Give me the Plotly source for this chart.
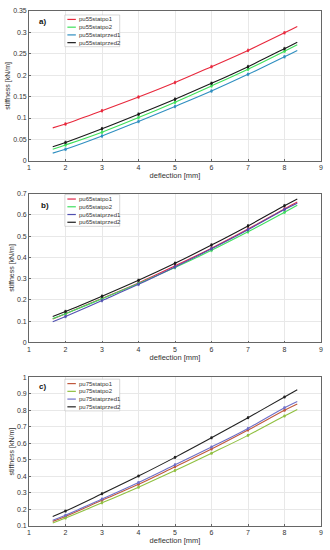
import plotly.graph_objects as go

deflection = [1.65, 2, 3, 4, 5, 6, 7, 8, 8.35]
marker_x = [2, 3, 4, 5, 6, 7, 8]

# Panel a) pu55
pu55statpo1 = [0.077, 0.086, 0.117, 0.149, 0.183, 0.220, 0.258, 0.299, 0.314]
pu55statpo2 = [0.027, 0.037, 0.067, 0.101, 0.137, 0.175, 0.214, 0.256, 0.271]
pu55statprzed1 = [0.018, 0.027, 0.058, 0.092, 0.127, 0.163, 0.202, 0.243, 0.258]
pu55statprzed2 = [0.033, 0.043, 0.075, 0.109, 0.144, 0.181, 0.220, 0.262, 0.277]

# Panel b) pu65
pu65statpo1 = [0.110, 0.135, 0.207, 0.280, 0.360, 0.443, 0.533, 0.628, 0.660]
pu65statpo2 = [0.112, 0.135, 0.205, 0.277, 0.352, 0.433, 0.520, 0.612, 0.645]
pu65statprzed1 = [0.097, 0.122, 0.197, 0.273, 0.355, 0.440, 0.530, 0.625, 0.655]
pu65statprzed2 = [0.122, 0.145, 0.217, 0.292, 0.372, 0.458, 0.548, 0.643, 0.675]

# Panel c) pu75
pu75statpo1 = [0.128, 0.158, 0.255, 0.352, 0.458, 0.565, 0.680, 0.800, 0.838]
pu75statpo2 = [0.118, 0.148, 0.240, 0.335, 0.435, 0.540, 0.648, 0.765, 0.805]
pu75statprzed1 = [0.135, 0.165, 0.263, 0.363, 0.470, 0.578, 0.690, 0.815, 0.853]
pu75statprzed2 = [0.157, 0.190, 0.295, 0.402, 0.515, 0.633, 0.755, 0.880, 0.924]

x_ticks = [1, 2, 3, 4, 5, 6, 7, 8, 9]

panels = [
    ("a)", [("pu55statpo1", pu55statpo1, "#e8283c"), ("pu55statpo2", pu55statpo2, "#3ee05a"),
            ("pu55statprzed1", pu55statprzed1, "#2f8fc0"), ("pu55statprzed2", pu55statprzed2, "#1a1a1a")],
     [0, 0.35], 0.05),
    ("b)", [("pu65statpo1", pu65statpo1, "#e0284a"), ("pu65statpo2", pu65statpo2, "#40e060"),
            ("pu65statprzed1", pu65statprzed1, "#5050b0"), ("pu65statprzed2", pu65statprzed2, "#1a1a1a")],
     [0, 0.7], 0.1),
    ("c)", [("pu75statpo1", pu75statpo1, "#c0583c"), ("pu75statpo2", pu75statpo2, "#90c040"),
            ("pu75statprzed1", pu75statprzed1, "#7070c8"), ("pu75statprzed2", pu75statprzed2, "#222222")],
     [0.1, 1.0], 0.1),
]

W, HGT = 330, 550
ML, MR, MT, MB = 29, 8, 7, 24
PW = W - ML - MR
PH = HGT - MT - MB

def fy(py):
    return 1 - (py - MT) / PH

def fx(px):
    return (px - ML) / PW

domains = [(fy(158), fy(7)), (fy(341), fy(191)), (fy(526), fy(376))]
legend_top_px = [11, 192, 378]
label_pos_px = [(43, 18), (45, 203), (43, 385)]

fig = go.Figure()
layout = dict(
    width=W, height=HGT,
    margin=dict(l=ML, r=MR, t=MT, b=MB),
    paper_bgcolor="white", plot_bgcolor="white",
    font=dict(family="Liberation Sans, Arial", size=7, color="#333"),
    showlegend=False,
)
annotations = []
shapes = []
for i, (lab, series, yr, dt) in enumerate(panels):
    n = i + 1
    xa = "x" if n == 1 else f"x{n}"
    ya = "y" if n == 1 else f"y{n}"
    for name, vals, col in series:
        fig.add_trace(go.Scatter(
            x=deflection, y=vals, mode="lines", name=name,
            line=dict(color=col, width=1.1, shape="spline"),
            xaxis=xa, yaxis=ya))
        fig.add_trace(go.Scatter(
            x=marker_x, y=vals[1:8], mode="markers",
            marker=dict(color=col, size=2.5),
            error_y=dict(type="constant", value=dt * 0.06, color=col, thickness=0.6, width=1),
            xaxis=xa, yaxis=ya, hoverinfo="skip"))
    axis_common = dict(showgrid=True, gridcolor="#e8e8e8", gridwidth=0.6,
                       showline=True, linecolor="#666", linewidth=0.7, mirror=True,
                       ticks="inside", ticklen=2, tickcolor="#666", zeroline=False,
                       tickfont=dict(size=7, color="#333"))
    layout["xaxis" if n == 1 else f"xaxis{n}"] = dict(
        axis_common, range=[1, 9], tickvals=x_ticks, domain=[0, 1], anchor=ya,
        title=dict(text="deflection [mm]", font=dict(size=7.5, color="#333"), standoff=0))
    layout["yaxis" if n == 1 else f"yaxis{n}"] = dict(
        axis_common, range=yr, dtick=dt, domain=list(domains[i]), anchor=xa,
        title=dict(text="stiffness [kN/m]", font=dict(size=7, color="#333"), standoff=1))

    # legend box (MATLAB style, inside the axes)
    top = legend_top_px[i]
    shapes.append(dict(type="rect", xref="paper", yref="paper",
                       x0=fx(65), x1=fx(120), y0=fy(top + 32), y1=fy(top),
                       line=dict(color="#bdbdbd", width=0.6), fillcolor="white", layer="above"))
    for k, (name, vals, col) in enumerate(series):
        cy = top + 4.5 + 7.8 * k
        shapes.append(dict(type="line", xref="paper", yref="paper",
                           x0=fx(67.5), x1=fx(76), y0=fy(cy), y1=fy(cy),
                           line=dict(color=col, width=1.2), layer="above"))
        annotations.append(dict(text=name, x=fx(77), y=fy(cy), xref="paper", yref="paper",
                                showarrow=False, xanchor="left", yanchor="middle",
                                font=dict(size=6, color="#333")))
    lx, ly = label_pos_px[i]
    annotations.append(dict(text=f"<b>{lab}</b>", x=fx(lx), y=fy(ly),
                            xref="paper", yref="paper", showarrow=False,
                            font=dict(size=8, color="#111"), xanchor="center", yanchor="middle"))

layout["annotations"] = annotations
layout["shapes"] = shapes
fig.update_layout(**layout)
fig.write_html("out.html", config={"displayModeBar": False},
               post_script="document.body.style.margin='0';document.body.style.overflow='hidden';")
